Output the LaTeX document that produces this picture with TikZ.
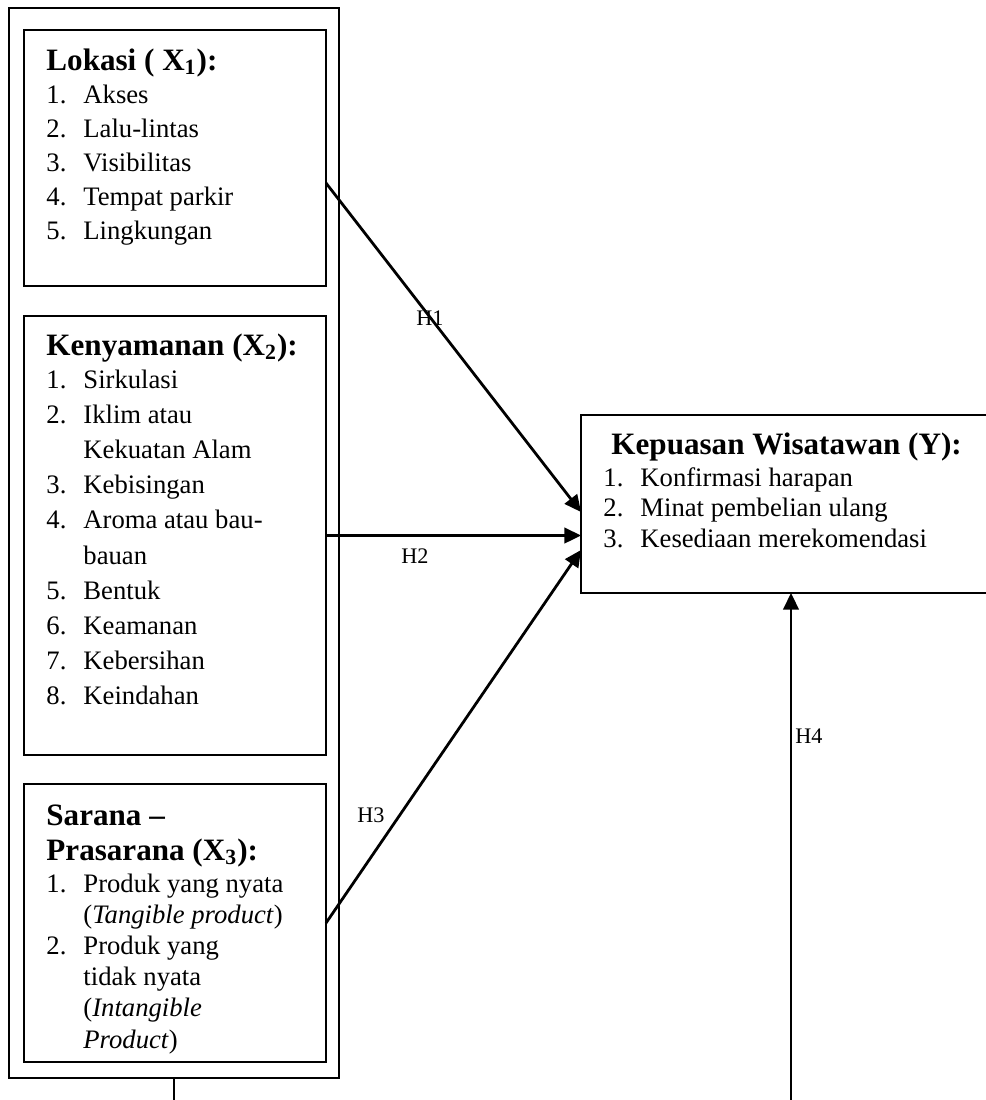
\documentclass[tikz,border=0pt]{standalone}
\usepackage{fontspec}
\setmainfont{Liberation Serif}
\usetikzlibrary{arrows.meta,calc}
\newdimen\upx \upx=0.45pt
\newcommand{\itm}[2]{\makebox[37\upx][l]{#1}#2}
\newcommand{\cnt}[1]{\hspace*{37\upx}#1}
\begin{document}
\begin{tikzpicture}[x=0.45pt,y=-0.45pt,
  box/.style={draw, line width=0.9pt, anchor=north west, inner sep=0pt, outer sep=0pt},
  ttl/.style={anchor=base west, inner sep=0pt},
  lst/.style={anchor=base west, inner sep=0pt},
  hyp/.style={anchor=base west, inner sep=0pt, font=\fontsize{10}{12}\selectfont},
  arr/.style={line width=1.25pt, -{Triangle[length=7.5pt,width=7pt]}},
  link/.style={line width=1.1pt}]
\useasboundingbox (0,0) rectangle (986,1100);

% boxes
\node[box, minimum width=330\upx, minimum height=1070\upx] (outer) at (9,8) {};
\node[box, minimum width=302\upx, minimum height=256\upx] (lok) at (24,30) {};
\node[box, minimum width=302\upx, minimum height=439\upx] (ken) at (24,316) {};
\node[box, minimum width=302\upx, minimum height=278\upx] (sar) at (24,784) {};
\node[box, minimum width=419\upx, minimum height=178\upx] (yb) at (581,415) {};

% Lokasi
\node[ttl, font=\fontsize{14}{16}\selectfont\bfseries] (lokT) at (46,70) {Lokasi ( X\textsubscript{1}):};
\node[lst, font=\fontsize{12}{15.41}\selectfont] (lokL) at (46,103) {\parbox[t]{290\upx}{%
\itm{1.}{Akses}\\
\itm{2.}{Lalu-lintas}\\
\itm{3.}{Visibilitas}\\
\itm{4.}{Tempat parkir}\\
\itm{5.}{Lingkungan}}};

% Kenyamanan
\node[ttl, font=\fontsize{14}{16}\selectfont\bfseries] (kenT) at (46,355) {Kenyamanan (X\textsubscript{2}):};
\node[lst, font=\fontsize{12}{15.84}\selectfont] (kenL) at (46,388) {\parbox[t]{290\upx}{%
\itm{1.}{Sirkulasi}\\
\itm{2.}{Iklim atau}\\
\cnt{Kekuatan Alam}\\
\itm{3.}{Kebisingan}\\
\itm{4.}{Aroma atau bau-}\\
\cnt{bauan}\\
\itm{5.}{Bentuk}\\
\itm{6.}{Keamanan}\\
\itm{7.}{Kebersihan}\\
\itm{8.}{Keindahan}}};

% Sarana
\node[ttl, font=\fontsize{14}{15.75}\selectfont\bfseries] (sarT) at (46,825) {\parbox[t]{290\upx}{%
Sarana --\\
Prasarana (X\textsubscript{3}):}};
\node[lst, font=\fontsize{12}{14.04}\selectfont] (sarL) at (46,892) {\parbox[t]{290\upx}{%
\itm{1.}{Produk yang nyata}\\
\cnt{(\textit{Tangible product})}\\
\itm{2.}{Produk yang}\\
\cnt{tidak nyata}\\
\cnt{(\textit{Intangible}}\\
\cnt{\textit{Product})}}};

% Kepuasan
\node[ttl, font=\fontsize{14}{16}\selectfont\bfseries] (yT) at (611,454) {Kepuasan Wisatawan (Y):};
\node[lst, font=\fontsize{12}{13.73}\selectfont] (yL) at (603,486) {\parbox[t]{380\upx}{%
\itm{1.}{Konfirmasi harapan}\\
\itm{2.}{Minat pembelian ulang}\\
\itm{3.}{Kesediaan merekomendasi}}};

% connectors
\draw[arr] ($(lok.east)+(0,25)$) -- ($(yb.west)+(0,8)$);
\draw[arr] (ken.east) -- (ken.east -| yb.west);
\draw[arr] (sar.east) -- ($(yb.west)+(0,46)$);
\coordinate (h4s) at (791,1105);
\draw[arr] (h4s) -- (h4s |- yb.south);
\coordinate (obt) at (174,1105);
\draw[link] (outer.south) -- (obt);

% labels
\node[hyp] (h1) at (416,325) {H1};
\node[hyp] (h2) at (401,563) {H2};
\node[hyp] (h3) at (357,822) {H3};
\node[hyp] (h4) at (795,743) {H4};
\end{tikzpicture}
\end{document}
